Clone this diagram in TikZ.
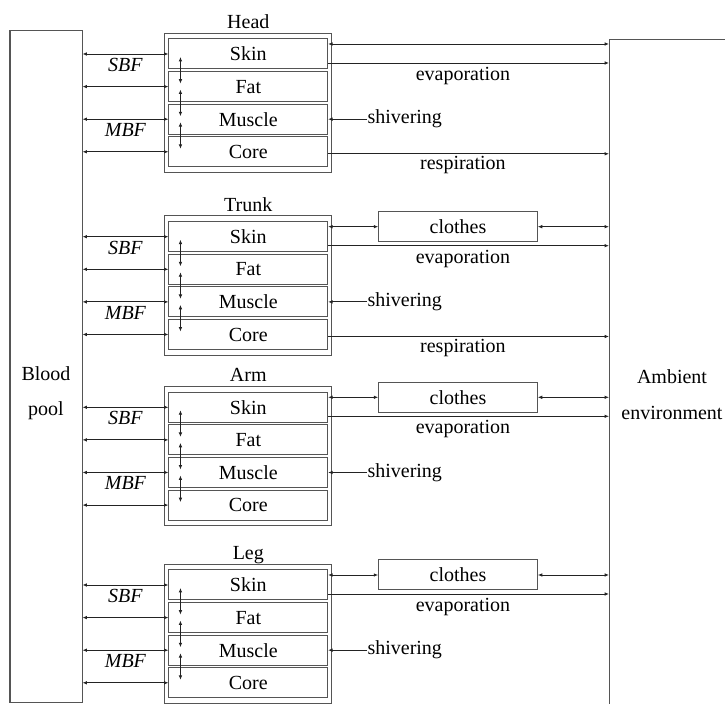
\documentclass[tikz,border=0pt]{standalone}
\usepackage{fontspec}
\setmainfont{LiberationSerif}[Extension=.ttf, UprightFont=*-Regular, BoldFont=*-Bold, ItalicFont=*-Italic, BoldItalicFont=*-BoldItalic]
\usetikzlibrary{positioning, fit, arrows.meta}
\definecolor{boxgray}{RGB}{85,85,85}
\definecolor{flowblack}{RGB}{35,35,35}

\begin{document}
\begin{tikzpicture}[x=0.5pt, y=-0.5pt, font=\fontsize{10}{12}\selectfont,
    >={Latex[length=2.2pt,width=1.8pt]},
    layer/.style={draw=boxgray, line width=0.5pt, minimum width=79.35pt, minimum height=15pt, inner sep=0pt},
    part/.style={draw=boxgray, line width=0.5pt, inner xsep=1.8pt, inner ysep=2.7pt},
    pool/.style={draw=boxgray, line width=0.5pt, inner sep=0pt},
    flow/.style={draw=flowblack, line width=0.4pt},
    lbl/.style={inner sep=2pt}]
    \useasboundingbox (0,0) rectangle (725,704);
    \clip (0,0) rectangle (725,704);
    % Riserva di sangue
    \node[pool, minimum width=36pt, minimum height=336pt] (blood) at (46,367) {};
    \node[align=center, font=\fontsize{10}{17.5}\selectfont] (bloodtext) at (46,393) {Blood\\pool};
    % Ambiente esterno
    \node[pool, minimum width=90pt, minimum height=361pt, anchor=north west] (amb) at (609,39) {};
    \node[align=center, font=\fontsize{10}{18}\selectfont] (ambtext) at (672,395) {Ambient\\environment};
    % Segmenti del corpo
    \foreach \seg/\lab/\yc in {head/Head/54, trunk/Trunk/236.7, arm/Arm/407.3, leg/Leg/585} {
        \node[layer] (\seg-skin) at (248.3,\yc) {Skin};
        \node[layer, below=0.8pt of \seg-skin] (\seg-fat) {Fat};
        \node[layer, below=0.8pt of \seg-fat] (\seg-muscle) {Muscle};
        \node[layer, below=0.8pt of \seg-muscle] (\seg-core) {Core};
        \node[part, fit=(\seg-skin)(\seg-core), label={[anchor=base, label distance=2pt]90:\lab}] (\seg) {};
        % flussi col sangue
        \draw[flow,<->] (blood.east |- \seg-skin.west) -- node[below, lbl] (\seg-sbf) {\textit{SBF}} (\seg-skin.west);
        \draw[flow,<->] (blood.east |- \seg-fat.west) -- (\seg-fat.west);
        \draw[flow,<->] (blood.east |- \seg-muscle.west) -- node[below, lbl] (\seg-mbf) {\textit{MBF}} (\seg-muscle.west);
        \draw[flow,<->] (blood.east |- \seg-core.west) -- (\seg-core.west);
        % conduzione tra strati
        \foreach \a/\b in {skin/fat, fat/muscle, muscle/core}
            \draw[flow,<->] ([xshift=6pt,yshift=-1.5pt]\seg-\a.west) -- ([xshift=6pt,yshift=1.5pt]\seg-\b.west);
        % evaporazione e brivido
        \coordinate (\seg-sk) at ([yshift=5pt]\seg-skin.east);
        \coordinate (\seg-ev) at ([yshift=-4.5pt]\seg-skin.east);
        \draw[flow,->] (\seg-ev) -- node[pos=.48, below, lbl] (\seg-evap) {evaporation} (amb.west |- \seg-ev);
        \node[right=19.5pt of \seg-muscle, inner sep=0pt] (\seg-shiv) {shivering};
        \draw[flow,->] (\seg-shiv.west) -- (\seg-muscle.east);
    }
    % Testa: scambio diretto con l'ambiente
    \draw[flow,<->] (head-sk) -- (amb.west |- head-sk);
    % Vestiti
    \foreach \seg in {trunk, arm, leg} {
        \node[layer, right=25pt of \seg-sk] (\seg-clothes) {clothes};
        \draw[flow,<->] (\seg-sk) -- (\seg-clothes);
        \draw[flow,<->] (\seg-clothes) -- (amb.west |- \seg-clothes);
    }
    % Respirazione
    \foreach \seg in {head, trunk} {
        \coordinate (\seg-re) at ([yshift=-1pt]\seg-core.east);
        \draw[flow,->] (\seg-re) -- node[pos=.48, below, inner sep=1pt] (\seg-resp) {respiration} (amb.west |- \seg-re);
    }
\end{tikzpicture}
\end{document}
